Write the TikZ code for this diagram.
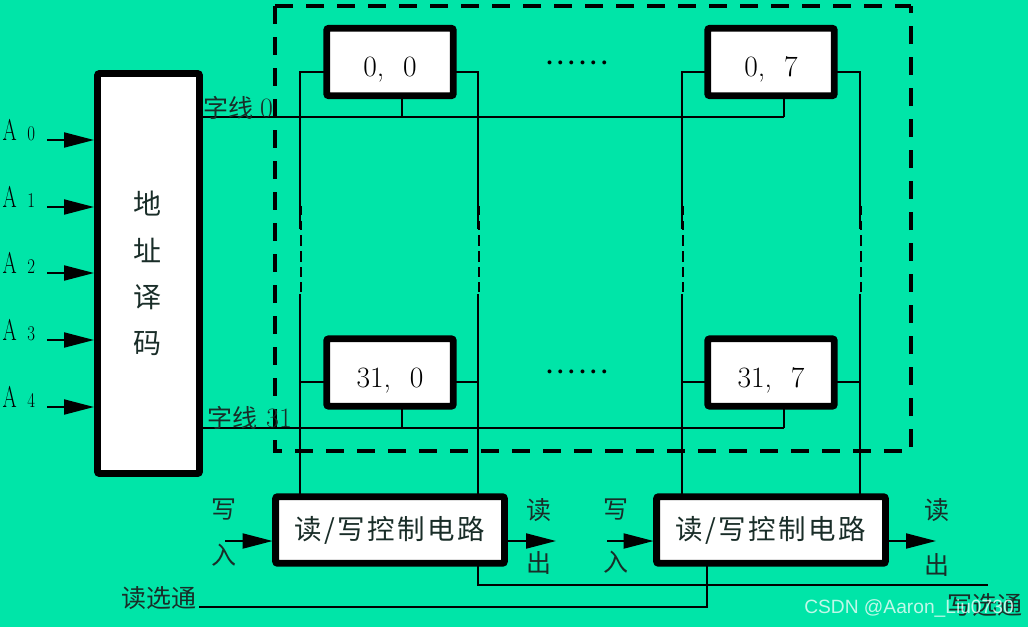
\documentclass[tikz,border=0pt]{standalone}
\usepackage{fontspec}
\usepackage{graphicx}
\setmainfont{Liberation Serif}
\newfontfamily\lmr{Latin Modern Roman}
\newfontfamily\cjk{Noto Sans CJK SC}
\newfontfamily\cjksp[LetterSpace=9]{Noto Sans CJK SC}
\newfontfamily\wmfont{Liberation Sans}
\usetikzlibrary{arrows.meta}
\definecolor{bgc}{RGB}{0,229,168}
\definecolor{cjkc}{RGB}{25,45,40}
\newcommand{\sixdots}{\textbf{.\kern5pt.\kern5pt.\kern5pt.\kern5pt.\kern5pt.}}
\newcommand{\celltext}[1]{\raisebox{-14.5pt}[0pt][0pt]{#1}}
\tikzset{
  thickbox/.style={draw=black,fill=white,line width=6.8pt,rounded corners=2pt,inner sep=0pt,outer sep=0pt,align=center},
  cell/.style={thickbox,minimum width=126.6pt,minimum height=67.4pt,font=\lmr\fontsize{29.5}{30}\selectfont},
  rwbox/.style={thickbox,minimum width=228.8pt,minimum height=66.6pt,font=\cjksp\fontsize{27.5}{28}\selectfont\color{cjkc}},
  wire/.style={draw=black,line width=2pt},
  arrowwire/.style={wire,-{Triangle[length=30pt,width=15pt]}},
  cjklabel/.style={inner sep=0pt,font=\cjk\fontsize{25}{27}\selectfont,text=cjkc},
  addr/.style={inner sep=0pt,anchor=base west,font=\lmr\fontsize{30}{30}\selectfont},
  dotsrow/.style={inner sep=0pt,font=\fontsize{24}{24}\selectfont},
  dashbox/.style={draw=black,line width=3.8pt,dash pattern=on 18pt off 13pt}
}
\begin{document}
\begin{tikzpicture}[x=1pt,y=-1pt]
\useasboundingbox[fill=bgc] (0,0) rectangle (1028,627);
% dashed frame
\coordinate (fTL) at (275,6);
\coordinate (fTR) at (911,6);
\coordinate (fBL) at (275,451);
\coordinate (fBR) at (911,451);
\draw[dashbox] (fTL) -- (fBL) -- (fBR) -- (fTR);
\draw[dashbox] (fTL) -- (fTR);
% nodes
\node[thickbox,minimum width=102pt,minimum height=400pt,font=\cjk\fontsize{28}{46.3}\selectfont\color{cjkc}] (dec) at (148.5,273.5) {地\kern3pt\\址\kern3pt\\译\kern3pt\\码\kern3pt};
\node[cell] (c00) at (390,62) {\celltext{0,\hspace{19pt}0}};
\node[cell] (c07) at (771,62) {\celltext{0,\hspace{19pt}7}};
\node[cell] (c310) at (390,372.5) {\celltext{31,\hspace{19pt}0}};
\node[cell] (c317) at (771,372.5) {\celltext{31,\hspace{19pt}7}};
\node[rwbox] (rw1) at (390,530) {读/写控制电路};
\node[rwbox] (rw2) at (771,530) {读/写控制电路};
% bit lines
\foreach \x/\cu/\cd/\rw/\side in {300/c00/c310/rw1/west,478/c00/c310/rw1/east,682/c07/c317/rw2/west,860/c07/c317/rw2/east}{
  \coordinate (t) at (\x,72);
  \coordinate (b) at (\x,382);
  \draw[wire] (\cu.\side |- t) -- (t) -- (\x,229);
  \draw[wire] (\cd.\side |- b) -- (b);
  \draw[wire] (\x,294) -- (\x,382) -- (\x,382 |- \rw.north);
  \foreach \a/\e in {206/215,221/230,235/246,251/262,267/277,282/292}
    \draw[wire] (\x+1,\a) -- (\x+1,\e);
}
% word lines
\coordinate (w0a) at (402,117);
\coordinate (w0b) at (784,117);
\coordinate (w1a) at (402,428);
\coordinate (w1b) at (784,428);
\draw[wire] (dec.east |- w0a) -- (w0b);
\draw[wire] (dec.east |- w1a) -- (w1b);
\draw[wire] (w0a) -- (w0a |- c00.south);
\draw[wire] (w0b) -- (w0b |- c07.south);
\draw[wire] (w1a) -- (w1a |- c310.south);
\draw[wire] (w1b) -- (w1b |- c317.south);
% address inputs
\foreach \i/\y in {0/140,1/207,2/273,3/340,4/407}{
  \coordinate (a\i) at (47,\y);
  \draw[arrowwire,shorten >=3.5pt] (a\i) -- (a\i -| dec.west);
  \node[addr] (al\i) at (2.5,\y) {\scalebox{0.68}[1]{A}\hspace{10.5pt}\fontsize{21}{21}\selectfont\scalebox{0.8}[1]{\i}};
}
% read / write data
\coordinate (in1) at (225,541);
\coordinate (in2) at (607,541);
\coordinate (out1) at (556,541);
\coordinate (out2) at (936,541);
\draw[arrowwire,shorten >=3pt] (in1) -- (in1 -| rw1.west);
\draw[arrowwire,shorten >=3pt] (in2) -- (in2 -| rw2.west);
\draw[arrowwire] (rw1.east |- out1) -- (out1);
\draw[arrowwire] (rw2.east |- out2) -- (out2);
% strobes
\coordinate (rs0) at (199,607);
\coordinate (rs1) at (707,607);
\coordinate (ws0) at (478,585);
\coordinate (ws1) at (988,585);
\draw[wire] (rs0) -- (rs1) -- (rs1 |- rw2.south);
\draw[wire] (ws0 |- rw1.south) -- (ws0) -- (ws1);
% labels
\node[cjklabel,anchor=west] (wl0) at (203,108) {字线\hspace{7pt}{\fontsize{28}{28}\selectfont\lmr 0}};
\node[cjklabel,anchor=west] (wl1) at (207,418) {字线\hspace{9pt}{\fontsize{28}{28}\selectfont\lmr 31}};
\node[cjklabel] (wi1a) at (224,510) {写};
\node[cjklabel] (wi1b) at (224,555) {入};
\node[cjklabel] (ro1a) at (539,510) {读};
\node[cjklabel] (ro1b) at (539,563) {出};
\node[cjklabel] (wi2a) at (616,510) {写};
\node[cjklabel] (wi2b) at (616,562) {入};
\node[cjklabel] (ro2a) at (937,510) {读};
\node[cjklabel] (ro2b) at (937,565) {出};
\node[cjklabel] (rsl) at (159,598) {读选通};
\node[cjklabel] (wsl) at (984.5,605) {写选通};
\node[dotsrow] (d1) at (577,63) {\sixdots};
\node[dotsrow] (d2) at (577,372) {\sixdots};
\node[inner sep=0pt,font=\wmfont\fontsize{19.2}{20}\selectfont,text=white,text opacity=0.75] (wm) at (909,608) {CSDN @Aaron\_Liu0730};
\end{tikzpicture}
\end{document}
